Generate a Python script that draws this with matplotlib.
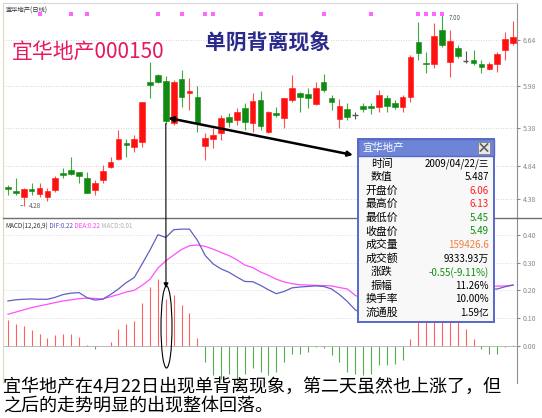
import matplotlib
matplotlib.use('Agg')
import matplotlib.pyplot as plt
from matplotlib.patches import Rectangle, Ellipse
import matplotlib.transforms as mtransforms

plt.rcParams['font.family'] = ['Noto Sans CJK SC', 'DejaVu Sans']

# daily candles
opens = [4.55, 4.49, 4.40, 4.52, 4.45, 4.40, 4.50, 4.75, 4.79, 4.76, 4.67, 4.50, 4.65,
         4.83, 4.94, 5.17, 5.12, 5.19, 6.04, 6.14, 6.06, 5.46, 6.08, 5.89, 5.83, 5.13,
         5.23, 5.32, 5.54, 5.50, 5.67, 5.46, 5.79, 5.33, 5.60, 5.53, 5.79, 5.88, 5.87,
         5.73, 6.04, 5.81, 5.51, 5.66, 5.57, 5.70, 5.70, 5.69, 5.81, 5.74, 5.69, 5.83,
         6.61, 6.31, 6.30, 6.78, 6.33, 6.53, 6.34, 6.36, 6.30, 6.23, 6.30, 6.50, 6.60]
highs = [4.58, 4.67, 4.53, 4.60, 4.60, 4.53, 4.70, 4.82, 4.97, 4.76, 4.76, 4.65, 4.86,
         4.97, 5.36, 5.23, 5.29, 5.76, 6.33, 6.16, 6.13, 6.07, 6.21, 6.10, 5.99, 5.32,
         5.39, 5.57, 5.60, 5.67, 5.74, 5.89, 5.91, 5.63, 5.69, 5.81, 6.14, 5.90, 5.96,
         6.04, 6.16, 5.86, 5.80, 5.74, 5.61, 5.74, 5.74, 5.93, 5.86, 5.79, 5.86, 6.43,
         6.90, 6.47, 6.88, 7.00, 6.78, 6.57, 6.48, 6.50, 6.36, 6.33, 6.47, 6.75, 6.91]
lows = [4.43, 4.43, 4.28, 4.43, 4.40, 4.35, 4.48, 4.67, 4.72, 4.60, 4.46, 4.43, 4.60,
        4.82, 4.93, 4.97, 5.05, 5.12, 5.81, 6.03, 5.45, 5.43, 5.69, 5.64, 5.33, 4.93,
        5.10, 5.22, 5.40, 5.43, 5.36, 5.33, 5.36, 5.31, 5.54, 5.39, 5.76, 5.61, 5.67,
        5.71, 5.90, 5.64, 5.39, 5.50, 5.51, 5.61, 5.59, 5.61, 5.61, 5.66, 5.61, 5.76,
        6.36, 6.17, 6.24, 6.54, 6.11, 6.38, 6.31, 6.28, 6.17, 6.21, 6.18, 6.36, 6.57]
closes = [4.52, 4.46, 4.52, 4.49, 4.53, 4.49, 4.67, 4.72, 4.73, 4.70, 4.46, 4.60, 4.77,
          4.90, 5.23, 5.14, 5.23, 5.76, 6.00, 6.04, 5.49, 6.04, 5.83, 5.91, 5.46, 5.24,
          5.29, 5.53, 5.47, 5.61, 5.47, 5.77, 5.42, 5.61, 5.57, 5.81, 5.96, 5.83, 5.81,
          5.96, 5.93, 5.76, 5.70, 5.54, 5.57, 5.66, 5.67, 5.86, 5.70, 5.69, 5.83, 6.40,
          6.46, 6.30, 6.70, 6.57, 6.63, 6.41, 6.34, 6.31, 6.26, 6.30, 6.44, 6.65, 6.68]

# MACD(12,26,9)
dif = [0.162, 0.166, 0.168, 0.169, 0.168, 0.168, 0.175, 0.185, 0.190, 0.192, 0.174, 0.165,
       0.168, 0.185, 0.205, 0.228, 0.246, 0.295, 0.345, 0.400, 0.390, 0.418, 0.420, 0.420,
       0.380, 0.325, 0.295, 0.277, 0.265, 0.248, 0.232, 0.231, 0.218, 0.202, 0.188, 0.196,
       0.209, 0.212, 0.214, 0.216, 0.214, 0.205, 0.185, 0.160, 0.130, 0.115, 0.108, 0.110,
       0.108, 0.105, 0.103, 0.125, 0.160, 0.180, 0.200, 0.225, 0.235, 0.235, 0.228, 0.220,
       0.212, 0.203, 0.205, 0.213, 0.219]
dea = [0.114, 0.122, 0.130, 0.138, 0.144, 0.150, 0.156, 0.162, 0.166, 0.170, 0.172, 0.171,
       0.169, 0.177, 0.185, 0.194, 0.200, 0.218, 0.240, 0.280, 0.306, 0.327, 0.347, 0.360,
       0.363, 0.358, 0.348, 0.336, 0.325, 0.310, 0.291, 0.282, 0.266, 0.254, 0.240, 0.230,
       0.224, 0.220, 0.219, 0.218, 0.217, 0.216, 0.210, 0.205, 0.182, 0.168, 0.158, 0.148,
       0.142, 0.137, 0.130, 0.120, 0.130, 0.140, 0.150, 0.165, 0.175, 0.190, 0.200, 0.208,
       0.212, 0.214, 0.215, 0.216, 0.219]
hist = [0.092, 0.078, 0.071, 0.056, 0.044, 0.030, 0.038, 0.043, 0.044, 0.032, 0.002, -0.012,
        0.0, 0.014, 0.062, 0.078, 0.089, 0.156, 0.212, 0.240, 0.168, 0.182, 0.146, 0.119,
        0.029, -0.058, -0.106, -0.118, -0.100, -0.118, -0.100, -0.080, -0.095, -0.105,
        -0.093, -0.058, -0.028, -0.028, -0.022, -0.004, -0.007, -0.034, -0.058, -0.093,
        -0.100, -0.106, -0.100, -0.070, -0.070, -0.064, -0.052, 0.026, 0.086, 0.098, 0.110,
        0.120, 0.110, 0.090, 0.060, 0.024, -0.010, -0.028, -0.028, -0.004, 0.005]

price_ticks = [6.64, 5.98, 5.38, 4.84, 4.38]
macd_ticks = [0.40, 0.30, 0.20, 0.10, 0.00]
marked_days = [4, 8, 10, 19, 22, 25, 26, 32, 40, 46, 52, 53, 54, 55]
focus_day = 20

tip_labels = ['时间', '数值', '开盘价', '最高价', '最低价', '收盘价', '成交量', '成交额',
              '涨跌', '振幅', '换手率', '流通股']
tip_values = ['2009/04/22/三', '5.487', '6.06', '6.13', '5.45', '5.49', '159426.6',
              '9333.93万', '-0.55(-9.11%)', '11.26%', '10.00%', '1.59亿']
tip_colors = ['black', 'black', '#ff2020', '#ff2020', '#109010', '#109010', '#f08040',
              'black', '#109010', 'black', 'black', 'black']

W, H = 542, 418
fig = plt.figure(figsize=(W / 100, H / 100), dpi=100)
fig.patch.set_facecolor('white')

def rect(x0, y0, x1, y1):
    return [x0 / W, 1 - y1 / H, (x1 - x0) / W, (y1 - y0) / H]

ax = fig.add_axes(rect(3, 3, 517, 218))
ax2 = fig.add_axes(rect(3, 218, 517, 383))

n = len(closes)
for i in range(n):
    o, h, l, c = opens[i], highs[i], lows[i], closes[i]
    if c > o:
        col, wick = '#ff1010', '#ff5050'
    elif c < o:
        col, wick = '#108a10', '#40aa40'
    else:
        col, wick = '#555555', '#555555'
    ax.vlines(i, l, h, color=wick, lw=0.8, zorder=2)
    if c == o:
        ax.hlines(c, i - 0.35, i + 0.35, color=col, lw=1, zorder=3)
    else:
        ax.add_patch(Rectangle((i - 0.36, min(o, c)), 0.72, abs(c - o),
                               facecolor=col, edgecolor=col, lw=0.4, zorder=3))

ax.set_xlim(-0.63, 64.5)
ax.set_ylim(4.105, 7.167)
ax.yaxis.tick_right()
ax.set_yticks(price_ticks)
ax.set_yticklabels(['%.2f' % t for t in price_ticks])
ax.set_xticks([])
ax.tick_params(axis='y', labelsize=5, colors='#888888', length=2, pad=2)
ax.grid(axis='y', color='#c8c8c8', ls=(0, (1, 2)), lw=0.6)
ax.spines['bottom'].set_visible(False)
ax.spines['right'].set_color('#909090')
ax.spines['left'].set_color('#e0d8c8')
ax.spines['top'].set_color('#d8d8d8')

# pink markers along the top
trans = mtransforms.blended_transform_factory(ax.transData, ax.transAxes)
ax.scatter(marked_days, [0.95] * len(marked_days), transform=trans, marker='s',
           s=5, color='#ff66ff', lw=0, zorder=4)

lo_i = lows.index(min(lows))
hi_i = highs.index(max(highs))
ax.annotate('%.2f' % lows[lo_i], xy=(lo_i - 0.4, lows[lo_i]), xytext=(lo_i + 0.6, lows[lo_i]),
            fontsize=4.5, color='#555555', va='center',
            arrowprops=dict(arrowstyle='-', color='#555555', lw=0.5))
ax.annotate('%.2f' % highs[hi_i], xy=(hi_i + 0.1, highs[hi_i]), xytext=(hi_i + 0.9, highs[hi_i] - 0.04),
            fontsize=4.5, color='#555555', va='center',
            arrowprops=dict(arrowstyle='-', color='#555555', lw=0.5))
ax.text(0.005, 0.985, '宜华地产(日线)', transform=ax.transAxes, fontsize=4.5,
        color='#333333', va='top')

# MACD panel
x = list(range(n))
for i in range(n):
    ax2.vlines(i, 0, hist[i], color='#ff6060' if hist[i] >= 0 else '#50b050', lw=0.8)
ax2.plot(x, dea, color='#ff50ff', lw=0.9)
ax2.plot(x, dif, color='#6060c0', lw=0.9)
ax2.axhline(0, color='#b0b0b0', lw=0.6)
ax2.set_xlim(-0.63, 64.5)
ax2.set_ylim(-0.133, 0.46)
ax2.yaxis.tick_right()
ax2.set_yticks(macd_ticks)
ax2.set_yticklabels(['%.2f' % t for t in macd_ticks])
ax2.set_xticks([])
ax2.tick_params(axis='y', labelsize=5, colors='#888888', length=2, pad=2)
ax2.grid(axis='y', color='#d0d0d0', ls=(0, (1, 2)), lw=0.6)
ax2.spines['bottom'].set_visible(False)
ax2.spines['right'].set_color('#909090')
ax2.spines['left'].set_color('#e0d8c8')
ax2.spines['top'].set_color('#707070')
ax2.spines['top'].set_linewidth(1.0)
hx = 0.005
for txt, col in [('MACD(12,26,9)', '#333333'), (' DIF:%.2f' % dif[-1], '#5050c0'),
                 (' DEA:%.2f' % dea[-1], '#ff40ff'), (' MACD:0.01', '#b0b0b0')]:
    t = ax2.text(hx, 0.975, txt, transform=ax2.transAxes, fontsize=4.5, color=col, va='top')
    fig.canvas.draw()
    bb = t.get_window_extent()
    hx += bb.width / ax2.bbox.width

# overlay in pixel coordinates for notes
ov = fig.add_axes([0, 0, 1, 1], zorder=10)
ov.set_xlim(0, W)
ov.set_ylim(H, 0)
ov.axis('off')
ov.patch.set_alpha(0)

ov.plot([517, 542], [218, 218], color='#707070', lw=1.0)

ov.text(12, 52, '宜华地产000150', fontsize=15, color='#e8185e', va='center')
ov.text(205, 42, '单阴背离现象', fontsize=15, color='#2a2a8c', va='center', fontweight='bold')

# tooltip box
ov.add_patch(Rectangle((358, 139), 136, 183, facecolor='#f8f8f8', edgecolor='#5868c8', lw=1.4))
ov.add_patch(Rectangle((358, 139), 136, 17, facecolor='#6e84d6', edgecolor='#5868c8', lw=1.0))
ov.text(362, 147.5, '宜华地产', fontsize=7.5, color='white', va='center')
ov.add_patch(Rectangle((478, 141.5), 12, 12, facecolor='#e8e8e8', edgecolor='#808080', lw=0.6))
ov.plot([480.5, 487.5], [144, 151], color='#606060', lw=1.2)
ov.plot([480.5, 487.5], [151, 144], color='#606060', lw=1.2)
for k, (lab, val, col) in enumerate(zip(tip_labels, tip_values, tip_colors)):
    yy = 163.3 + k * 13.6
    ov.text(381.5, yy, lab, fontsize=7.8, ha='center', va='center', color='black')
    ov.text(489, yy, val, fontsize=7, ha='right', va='center', color=col)

# arrows and ellipse
ov.annotate('', xy=(focus_day + 0.3, closes[focus_day] + 0.04), xycoords=ax.transData,
            xytext=(353, 155), textcoords='data',
            arrowprops=dict(arrowstyle='<|-|>', color='black', lw=1.8, mutation_scale=7,
                            shrinkA=0, shrinkB=0))
ov.annotate('', xy=(166, 288), xycoords='data',
            xytext=(focus_day, lows[focus_day]), textcoords=ax.transData,
            arrowprops=dict(arrowstyle='-|>', color='black', lw=0.8, mutation_scale=7,
                            shrinkA=0, shrinkB=0))
ov.add_patch(Ellipse((166.5, 327), 11, 82, fill=False, edgecolor='black', lw=0.8))

ov.text(3, 387, '宜华地产在4月22日出现单背离现象，第二天虽然也上涨了，但', fontsize=13,
        va='center', color='black')
ov.text(3, 406, '之后的走势明显的出现整体回落。', fontsize=13, va='center', color='black')

fig.savefig('out.png', dpi=100, facecolor='white')
